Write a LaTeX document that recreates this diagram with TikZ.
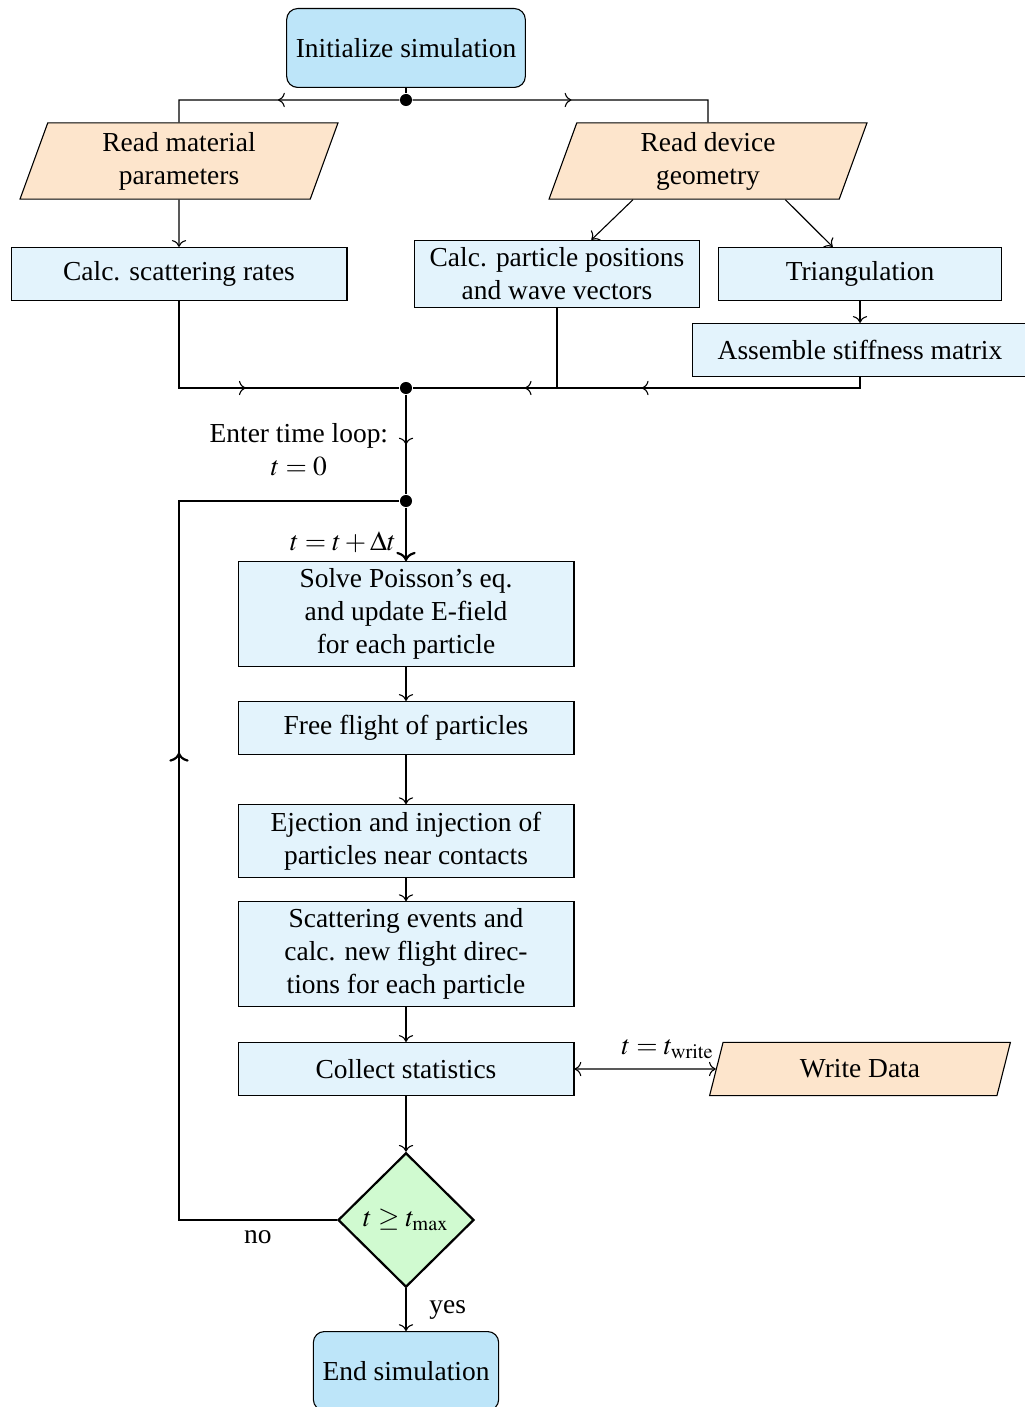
\documentclass[tikz,border=0pt]{standalone}
\usepackage{mathptmx}
\usepackage{fontspec}
\setmainfont{Liberation Serif}
\usepackage{xcolor}
\usetikzlibrary{arrows.meta,shapes.geometric,decorations.markings}
\definecolor{startc}{RGB}{189,229,249}
\definecolor{procc}{RGB}{227,243,252}
\definecolor{ioc}{RGB}{253,229,204}
\definecolor{decc}{RGB}{208,250,208}

\begin{document}
\begin{tikzpicture}[x=0.0128cm,y=-0.0128cm,>=To,
startstop/.style={draw,rounded corners=4pt,fill=startc,minimum width=2.94cm,minimum height=1.01cm},
proc/.style={draw,fill=procc,align=center,minimum width=4.3cm,minimum height=0.68cm,inner sep=2pt},
io/.style={draw,fill=ioc,align=center,trapezium,trapezium left angle=70,trapezium right angle=110,trapezium stretches body,minimum width=4.07cm,minimum height=0.97cm},
dec/.style={draw,thick,fill=decc,diamond,aspect=1,inner sep=0pt,minimum width=1.74cm,minimum height=1.72cm},
dot/.style={circle,fill,inner sep=0pt,minimum size=4.4pt},
midarr/.style={postaction={decorate},decoration={markings,mark=at position #1 with {\arrow{To}}}},
midarr/.default=0.5]
\useasboundingbox (0,0) rectangle (1024,1407);
\node[startstop] (init) at (406,48) {Initialize simulation};
\node[dot] (d1) at (406,100) {};
\node[io] (mat) at (179,161) {Read material\\parameters};
\node[io] (geo) at (708,161) {Read device\\geometry};
\node[proc] (scat) at (179,274) {Calc. scattering rates};
\node[proc,minimum width=3.64cm,minimum height=0.86cm] (part) at (557,274) {Calc. particle positions\\and wave vectors};
\node[proc,minimum width=3.62cm] (tri) at (860,274) {Triangulation};
\node[proc] (asm) at (860,350) {Assemble stiffness matrix};
\node[dot] (d2) at (406,388) {};
\node[dot] (d3) at (406,501) {};
\node[proc,minimum height=1.34cm] (poi) at (406,614) {Solve Poisson's eq.\\and update E-field\\for each particle};
\node[proc] (fly) at (406,728) {Free flight of particles};
\node[proc,minimum height=0.93cm] (inj) at (406,841) {Ejection and injection of\\particles near contacts};
\node[proc,minimum height=1.34cm] (sca) at (406,954) {Scattering events and\\calc. new flight direc-\\tions for each particle};
\node[proc] (col) at (406,1069) {Collect statistics};
\node[io,minimum width=3.85cm,minimum height=0.68cm] (wri) at (860,1069) {Write Data};
\node[dec] (chk) at (406,1220) {$t\geq t_{\max}$};
\node[startstop,minimum width=2.3cm] (end) at (406,1371) {End simulation};

\draw (init) -- (d1);
\draw[midarr] (d1) -- (d1 -| mat) -- (mat);
\draw[midarr] (d1) -- (d1 -| geo) -- (geo);
\draw[->] (mat) -- (scat);
\draw[->] ([xshift=-0.96cm]geo.south) -- ([xshift=0.44cm]part.north);
\draw[->] ([xshift=0.99cm]geo.south) -- ([xshift=-0.35cm]tri.north);
\draw[->] (tri) -- (asm);
\draw[midarr] (scat) -- (scat |- d2) -- (d2);
\draw[midarr] (part) -- (part |- d2) -- (d2);
\draw[midarr] (asm) -- (asm |- d2) -- (d2);
\draw[midarr] (d2) -- node[left=3pt,yshift=-2pt,align=center]{Enter time loop:\\$t=0$} (d3);
\draw[thick,->] (d3) -- node[left,pos=0.65]{$t=t+\Delta t$} (poi);
\draw[->] (poi) -- (fly);
\draw[->] (fly) -- (inj);
\draw[->] (inj) -- (sca);
\draw[->] (sca) -- (col);
\draw[->] (col) -- (chk);
\draw[<->] (col) -- node[above,pos=0.66]{$t=t_{\mathrm{write}}$} (wri);
\draw[->] (chk) -- node[right=5pt]{yes} (end);
\draw[thick,midarr=0.57] (chk) -- node[below]{no} (chk -| mat) -- (d3 -| mat) -- (d3);
\end{tikzpicture}
\end{document}
